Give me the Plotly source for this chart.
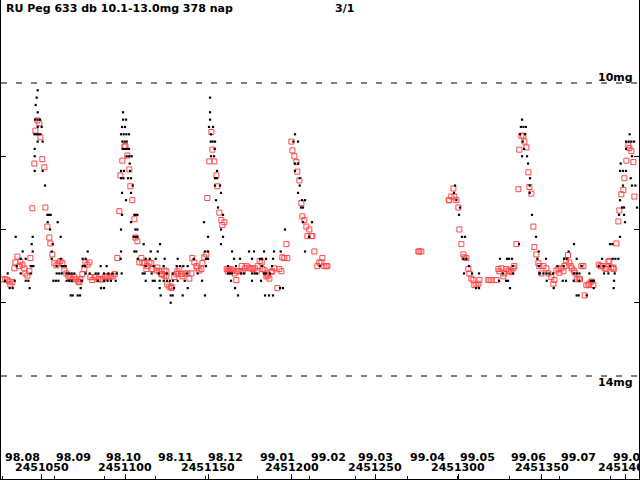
import plotly.graph_objects as go

JD0 = 2451000

# visual estimates (JD - 2451000, magnitude)
black_jd = [
    47.6, 47.0, 46.4, 47.6, 46.0, 47.5, 49.0, 47.6, 50.0, 45.6, 46.8, 48.0, 49.2,
    47.6, 50.6, 45.8, 45.8, 45.8, 50.6, 52.0, 53.4, 54.4, 55.4, 53.6, 59.6, 55.0,
    34.4, 44.6, 61.4, 44.0, 56.6, 38.6, 44.6, 56.0, 77.6,
    37.4, 40.4, 56.0, 61.4, 74.6, 76.4,
    35.0, 43.4, 44.2, 45.0, 59.0, 62.0, 63.2, 64.4, 74.6, 76.0,
    29.6, 37.4, 43.4, 59.0, 60.5, 62.0, 65.0, 66.5, 68.0, 69.6, 76.4, 78.8, 82.4, 84.0,
    28.0, 33.8, 40.4, 42.0, 57.0, 58.5, 60.0, 65.0, 66.5, 68.0, 74.0, 83.6,
    30.8, 32.6, 42.8, 73.4, 67.4, 68.6, 71.6, 73.0,
    # 2nd outburst
    98.8, 98.8, 100.6, 98.2, 100.0, 97.6, 99.2, 100.8, 102.4, 98.4, 99.8, 101.0,
    98.6, 100.0, 101.2, 102.4, 101.0, 102.5, 104.0, 102.8, 97.6, 99.4, 103.0,
    97.6, 99.0, 101.8, 103.6, 104.6, 98.2, 103.6, 100.6, 98.2, 105.6, 106.4, 107.4,
    103.6, 97.6, 106.2, 107.4, 105.2, 106.4, 107.4, 111.2, 121.0,
    97.6, 105.6, 106.8, 115.4, 119.6,
    97.4, 107.6, 112.4, 114.8, 118.4, 123.8, 131.6, 141.2,
    85.4, 89.0, 112.4, 117.2, 123.2, 131.0, 133.0, 135.0, 137.6,
    87.4, 90.0, 92.5, 95.0, 98.0, 110.6, 111.8, 116.0, 120.2, 125.0, 128.6, 137.0, 143.6,
    87.4, 89.5, 91.5, 94.4, 112.4, 116.6, 117.8, 120.8, 123.2, 125.2, 127.0, 128.8, 131.6, 135.8,
    85.6, 87.4, 120.8, 129.4, 137.6, 121.4, 127.4, 128.6, 134.6, 127.4,
    # 3rd outburst
    151.0, 151.0, 151.0, 150.4, 152.8, 151.6, 151.4, 152.6, 154.0, 153.8, 151.6, 153.4,
    155.2, 154.0, 155.2, 154.0, 157.0, 157.6, 154.6, 155.8, 158.8, 147.4, 157.6,
    149.8, 158.8, 157.6,
    148.0, 149.8, 164.2, 174.4, 177.4, 183.4, 189.4, 193.4,
    148.6, 149.8, 165.4, 169.0, 176.2, 181.0, 182.2, 184.6, 188.8,
    148.6, 161.8, 166.6, 182.2, 188.2,
    161.8, 163.0, 164.2, 169.6, 171.4, 176.2, 177.8, 179.2, 183.4, 184.6, 187.0,
    146.2, 163.6, 176.2, 181.6, 166.0, 193.0, 194.8, 148.0, 167.8, 184.0, 186.4, 188.8,
    # 4th outburst
    202.0, 201.0, 203.8, 202.0, 203.8, 202.0, 204.8, 204.8, 203.8, 206.2, 208.0,
    205.6, 206.8, 206.8, 212.2, 196.0, 210.4, 208.0, 216.8,
    # 5th and 6th outbursts
    298.0, 297.4, 298.8, 301.0, 300.4, 302.2, 304.0, 303.0, 304.8, 306.4,
    303.4, 308.2, 312.4, 310.6, 312.4,
    325.0, 329.2, 330.4, 332.2, 332.8, 326.8, 332.8, 324.4, 328.6, 329.8, 331.0,
    338.2, 337.5, 339.0, 340.5, 337.0, 340.0, 338.6, 339.4, 338.2, 341.2, 341.8,
    343.0, 342.8, 342.8, 344.2, 346.6, 336.4, 348.2, 347.4, 348.4, 353.0, 348.6,
    # 7th outburst
    402.8, 400.6, 402.2, 403.8, 405.4, 400.6, 404.2, 397.4, 397.0, 398.8, 400.6,
    403.4, 398.8, 404.2, 406.2, 397.0, 398.2, 399.4, 407.2, 396.4, 399.4, 400.0,
    397.0, 391.0, 392.4, 369.4, 366.2,
    352.6, 363.4, 365.0, 371.0, 386.2, 392.6, 394.2, 396.0,
    359.4, 363.2, 374.0, 384.2, 387.2, 391.0,
    349.0, 351.0, 354.6, 356.8, 369.4, 371.0, 372.6, 378.6, 387.4, 390.0, 393.8,
    353.0, 362.6, 364.6, 369.2, 372.6, 379.4, 380.4, 381.4, 393.4,
    357.2, 381.2, 393.2, 371.0, 372.2, 377.0,
]
black_mag = [
    10.1, 10.2, 10.3, 10.4, 10.5, 10.5, 10.5, 10.6, 10.6, 10.7, 10.7, 10.7, 10.7,
    10.8, 10.8, 10.9, 11.0, 11.2, 11.2, 11.4, 11.8, 11.8, 11.8, 11.9, 11.9, 12.0,
    12.1, 12.1, 12.1, 12.2, 12.2, 12.3, 12.3, 12.3, 12.3,
    12.4, 12.4, 12.4, 12.4, 12.4, 12.4,
    12.5, 12.5, 12.5, 12.5, 12.5, 12.5, 12.5, 12.5, 12.5, 12.5,
    12.6, 12.6, 12.6, 12.6, 12.6, 12.6, 12.6, 12.6, 12.6, 12.6, 12.6, 12.6, 12.6, 12.6,
    12.7, 12.7, 12.7, 12.7, 12.7, 12.7, 12.7, 12.7, 12.7, 12.7, 12.7, 12.7,
    12.8, 12.8, 12.8, 12.8, 12.9, 12.9, 12.9, 12.9,
    10.4, 10.5, 10.5, 10.6, 10.6, 10.7, 10.7, 10.7, 10.7, 10.8, 10.8, 10.8,
    10.9, 10.9, 10.9, 10.9, 11.0, 11.0, 11.0, 11.1, 11.2, 11.2, 11.2,
    11.3, 11.3, 11.3, 11.3, 11.4, 11.5, 11.5, 11.6, 11.8, 11.8, 11.8, 11.8,
    11.9, 12.0, 12.0, 12.0, 12.1, 12.1, 12.1, 12.2, 12.2,
    12.3, 12.3, 12.3, 12.3, 12.3,
    12.4, 12.4, 12.4, 12.4, 12.4, 12.4, 12.4, 12.4,
    12.5, 12.5, 12.5, 12.5, 12.5, 12.5, 12.5, 12.5, 12.5,
    12.6, 12.6, 12.6, 12.6, 12.6, 12.6, 12.6, 12.6, 12.6, 12.6, 12.6, 12.6, 12.6,
    12.7, 12.7, 12.7, 12.7, 12.7, 12.7, 12.7, 12.7, 12.7, 12.7, 12.7, 12.7, 12.7, 12.7,
    12.8, 12.8, 12.8, 12.8, 12.8, 12.9, 12.9, 12.9, 12.9, 13.0,
    10.2, 10.4, 10.5, 10.6, 10.6, 10.7, 10.8, 10.8, 10.8, 10.9, 11.0, 11.0,
    11.2, 11.3, 11.3, 11.4, 11.4, 11.5, 11.6, 11.7, 11.8, 11.9, 12.0,
    12.1, 12.1, 12.2,
    12.3, 12.3, 12.3, 12.3, 12.3, 12.3, 12.3, 12.3,
    12.4, 12.4, 12.4, 12.4, 12.4, 12.4, 12.4, 12.4, 12.4,
    12.5, 12.5, 12.5, 12.5, 12.5,
    12.6, 12.6, 12.6, 12.6, 12.6, 12.6, 12.6, 12.6, 12.6, 12.6, 12.6,
    12.7, 12.7, 12.7, 12.7, 12.8, 12.8, 12.8, 12.9, 12.9, 12.9, 12.9, 12.9,
    10.7, 10.8, 10.8, 11.1, 11.1, 11.2, 11.3, 11.4, 11.5, 11.6, 11.6,
    11.7, 11.7, 11.9, 11.9, 12.0, 12.1, 12.3, 12.5,
    11.4, 11.5, 11.6, 11.7, 11.8, 12.1, 12.1, 12.4, 12.4, 12.5,
    12.6, 12.6, 12.6, 12.8, 12.8,
    12.4, 12.4, 12.4, 12.4, 12.5, 12.6, 12.6, 12.7, 12.7, 12.7, 12.8,
    10.5, 10.6, 10.6, 10.6, 10.7, 10.7, 10.8, 10.9, 11.0, 11.0, 11.1,
    11.3, 11.4, 11.5, 11.8, 12.1, 12.2, 12.3, 12.4, 12.5, 12.6, 12.6,
    10.7, 10.8, 10.8, 10.8, 10.8, 10.9, 11.0, 11.1, 11.2, 11.2, 11.2,
    11.3, 11.4, 11.4, 11.4, 11.6, 11.7, 11.7, 11.7, 11.8, 11.8, 11.9,
    12.1, 12.2, 12.2, 12.2, 12.3,
    12.4, 12.4, 12.4, 12.4, 12.4, 12.4, 12.4, 12.4,
    12.5, 12.5, 12.5, 12.5, 12.5, 12.5,
    12.6, 12.6, 12.6, 12.6, 12.6, 12.6, 12.6, 12.6, 12.6, 12.6, 12.6,
    12.7, 12.7, 12.7, 12.7, 12.7, 12.7, 12.7, 12.7, 12.7,
    12.8, 12.8, 12.8, 12.9, 12.9, 12.9,
]

red_jd = [
    47.4, 48.6, 46.2, 49.2, 45.6, 50.4, 51.6, 44.4, 52.2, 53.4, 54.6, 55.2, 56.4,
    35.4, 34.2, 38.4, 37.2, 43.2, 36.6, 33.6, 39.6, 42.6, 40.2, 41.4,
    28.2, 29.4, 30.6, 32.4, 31.2, 26.4, 57.6, 58.8, 60.0, 61.2, 62.4, 63.6, 64.8,
    66.0, 67.2, 68.4, 69.6, 70.8, 72.0, 73.2, 72.6, 74.4, 75.6, 76.2, 77.4, 78.6,
    79.2, 80.4, 81.6, 82.8, 84.0,
    85.4, 86.6, 87.8, 89.0, 90.2, 91.4, 92.6, 93.8, 99.6, 100.2, 101.4, 98.4,
    102.6, 97.2, 103.2, 104.4, 96.6, 105.6, 106.2, 107.4, 95.4, 109.8, 108.6,
    110.4, 111.6, 114.6, 115.8, 113.4, 116.4, 112.8, 119.4, 120.6, 118.8, 121.8,
    122.2, 122.4, 123.6, 124.8, 123.6, 124.8, 125.4, 126.6, 127.8, 127.8, 129.6,
    130.8, 131.4, 132.6, 132.0, 133.8, 134.4, 136.2, 137.4, 139.8, 138.6, 140.4,
    141.6, 142.8, 143.4, 144.6,
    151.8, 152.4, 150.6, 153.6, 154.8, 155.4, 149.4, 156.6, 157.8, 159.6, 158.4,
    147.6, 148.8, 146.4, 145.8, 161.0, 162.2, 163.4, 164.6, 161.6, 162.8, 165.8,
    167.0, 168.2, 169.4, 170.6, 170.0, 171.8, 173.0, 174.2, 175.4, 176.6, 177.8,
    179.0, 179.6, 180.8, 182.0, 182.6, 183.8, 185.0, 185.6, 184.8, 186.6, 187.8,
    188.4, 189.6, 191.4, 192.6, 193.8, 194.4, 195.6, 197.4, 196.8, 166.8,
    199.8, 200.4, 201.6, 202.8, 203.4, 204.6, 205.8, 206.4, 207.6, 208.8, 210.6,
    209.4, 211.8, 212.4, 213.6, 215.4, 216.6, 218.4, 217.8, 219.6, 220.8, 221.4,
    276.0, 276.6, 277.8,
    297.0, 295.8, 297.6, 294.2, 294.6, 298.8, 300.0, 300.6, 301.8, 303.0, 303.6,
    304.8, 306.0, 306.6, 307.8, 309.0, 309.6, 310.8, 312.0, 312.6,
    318.0, 318.6, 319.8, 322.8, 324.0, 325.8, 324.6, 327.0, 327.6, 328.8, 330.6,
    330.0, 331.8, 333.0, 333.6, 334.8,
    337.8, 339.0, 339.6, 340.8, 336.6, 342.0, 336.0, 342.6, 343.8, 345.0, 345.6,
    346.8, 348.0, 348.6, 349.8, 351.0, 352.8, 354.0,
    402.0, 402.6, 403.8, 400.8, 405.0, 399.6, 399.0, 397.8, 405.6, 396.6, 396.0,
    394.8, 390.0, 390.6, 384.2, 385.4, 386.6, 387.8, 388.8, 391.8, 393.2, 393.0,
    365.8, 364.6, 366.6, 363.6, 361.8, 363.0, 360.0, 358.8, 360.6, 355.8, 357.0,
    357.6, 367.4, 368.0, 369.2, 369.8, 371.0, 372.2, 373.0, 375.0, 373.8, 376.8,
    378.0, 378.6, 379.8, 381.0, 375.8,
]
red_mag = [
    10.51, 10.55, 10.65, 10.74, 11.10, 11.04, 11.15, 11.71, 11.70, 11.96, 12.11, 12.19, 12.34,
    12.37, 12.45, 12.48, 12.44, 12.39, 12.50, 12.53, 12.53, 12.57, 12.60, 12.63,
    12.68, 12.69, 12.71, 12.72, 12.75, 12.68, 12.46, 12.49, 12.46, 12.43, 12.46, 12.56, 12.60,
    12.63, 12.65, 12.68, 12.65, 12.68, 12.71, 12.68, 12.72, 12.61, 12.54, 12.45, 12.48, 12.45,
    12.65, 12.69, 12.65, 12.65, 12.68,
    12.68, 12.68, 12.65, 12.64, 12.64, 12.64, 12.64, 12.61, 10.87, 10.86, 10.99, 11.06,
    11.18, 11.26, 11.41, 11.60, 11.75, 11.86, 12.11, 12.16, 12.39, 12.39, 12.45,
    12.45, 12.46, 12.45, 12.46, 12.50, 12.54, 12.54, 12.52, 12.57, 12.56, 12.61,
    12.61, 12.61, 12.56, 12.57, 12.63, 12.64, 12.75, 12.78, 12.78, 12.80, 12.65,
    12.61, 12.57, 12.54, 12.60, 12.61, 12.64, 12.60, 12.60, 12.60, 12.67, 12.39,
    12.45, 12.50, 12.53, 12.56,
    10.67, 10.91, 11.07, 11.07, 11.26, 11.41, 11.57, 11.77, 11.87, 11.90, 11.94,
    12.38, 12.34, 12.46, 12.54, 12.54, 12.54, 12.54, 12.56, 12.57, 12.57, 12.60,
    12.57, 12.57, 12.57, 12.57, 12.50, 12.53, 12.50, 12.52, 12.53, 12.54, 12.53,
    12.57, 12.50, 12.43, 12.45, 12.54, 12.56, 12.60, 12.63, 12.64, 12.67, 12.58,
    12.57, 12.53, 12.80, 12.54, 12.57, 12.38, 12.39, 12.39, 12.20, 12.69,
    10.80, 10.92, 11.00, 11.08, 11.21, 11.33, 11.64, 11.82, 11.87, 11.96, 12.00,
    12.09, 12.09, 12.09, 12.30, 12.50, 12.45, 12.39, 12.45, 12.50, 12.50, 12.50,
    12.30, 12.30, 12.30,
    11.44, 11.55, 11.55, 11.60, 11.60, 11.60, 11.70, 12.00, 12.20, 12.34, 12.38,
    12.39, 12.54, 12.60, 12.67, 12.69, 12.76, 12.75, 12.74, 12.69,
    12.69, 12.69, 12.69, 12.69, 12.54, 12.53, 12.57, 12.64, 12.60, 12.54, 12.57,
    12.56, 12.58, 12.53, 12.50, 12.20,
    10.72, 10.72, 10.80, 10.88, 10.91, 11.22, 11.45, 11.42, 11.51, 11.96, 12.24,
    12.34, 12.46, 12.50, 12.60, 12.50, 12.53, 12.60,
    10.85, 10.89, 10.93, 11.06, 11.08, 11.30, 11.46, 11.52, 11.55, 11.74, 11.89,
    12.19, 12.44, 12.43, 12.48, 12.50, 12.50, 12.53, 12.54, 12.52, 12.54, 12.52,
    12.35, 12.42, 12.45, 12.50, 12.53, 12.57, 12.54, 12.56, 12.59, 12.65, 12.74,
    12.69, 12.50, 12.53, 12.56, 12.59, 12.68, 12.67, 12.68, 12.50, 12.50, 12.76,
    12.76, 12.74, 12.71, 12.76, 12.90,
]

# axis marks
month_labels = ["98.08", "98.09", "98.10", "98.11", "98.12", "99.01", "99.02",
                "99.03", "99.04", "99.05", "99.06", "99.07", "99.08"]
month_jd = [2451026.5, 2451057.5, 2451087.5, 2451118.5, 2451148.5, 2451179.5,
            2451210.5, 2451238.5, 2451269.5, 2451299.5, 2451330.5, 2451360.5,
            2451391.5]
jd_ticks = [2451050, 2451100, 2451150, 2451200, 2451250, 2451300, 2451350, 2451400]
mag_ticks = [11, 12, 13]
mag_limits = [10, 14]

title_text = "RU Peg 633 db 10.1-13.0mg 378 nap"
page_text = "3/1"

RED = "#ff4747"
FONT = dict(family="DejaVu Sans", size=11, color="black", weight="bold")
x_range = [JD0 + 25.58, JD0 + 408.38]
y_range = [15.406, 8.867]

fig = go.Figure()
fig.add_trace(go.Scatter(
    x=[JD0 + j for j in black_jd], y=black_mag, mode="markers", xaxis="x2",
    marker=dict(symbol="square", size=2.2, color="black", line=dict(width=0)),
))
fig.add_trace(go.Scatter(
    x=[JD0 + j for j in red_jd], y=red_mag, mode="markers",
    marker=dict(symbol="square-open", size=5, color=RED, line=dict(width=1, color=RED)),
))

for m in mag_limits:
    fig.add_shape(type="line", xref="paper", x0=0, x1=1, yref="y", y0=m, y1=m,
                  line=dict(color="black", width=1, dash="6px,9px"))

annotations = [
    dict(text=title_text, xref="paper", x=0, xanchor="left", xshift=3,
         yref="paper", y=1, yanchor="middle", yshift=-8),
    dict(text=page_text, xref="paper", x=0, xanchor="left", xshift=332,
         yref="paper", y=1, yanchor="middle", yshift=-8),
    dict(text="10mg", xref="paper", x=1, xanchor="right", xshift=-4,
         yref="y", y=10, yanchor="middle", yshift=6),
    dict(text="14mg", xref="paper", x=1, xanchor="right", xshift=-4,
         yref="y", y=14, yanchor="middle", yshift=-6),
]
for lab, jd in zip(month_labels, month_jd):
    annotations.append(dict(text=lab, xref="x", x=jd, xanchor="left",
                            yref="paper", y=0, yanchor="middle", yshift=22))
for jd in jd_ticks:
    annotations.append(dict(text=str(jd), xref="x", x=jd, xanchor="center",
                            yref="paper", y=0, yanchor="middle", yshift=12))
for a in annotations:
    a.update(showarrow=False, font=FONT)

fig.update_layout(
    width=640, height=480,
    template="plotly_white",
    plot_bgcolor="white", paper_bgcolor="white",
    showlegend=False,
    margin=dict(l=1, r=1, t=0, b=1),
    annotations=annotations,
    xaxis=dict(range=x_range, tickvals=month_jd, ticks="inside", ticklen=3,
               tickcolor="black", showticklabels=False, showline=True,
               linecolor="black", linewidth=1, showgrid=False, zeroline=False),
    xaxis2=dict(range=x_range, overlaying="x", anchor="y", side="bottom",
                tickvals=jd_ticks, ticks="inside", ticklen=5, tickcolor="black",
                showticklabels=False, showline=False, showgrid=False, zeroline=False),
    yaxis=dict(range=y_range, tickvals=mag_ticks, ticks="inside", ticklen=5,
               tickcolor="black", showticklabels=False, showline=True,
               linecolor="black", linewidth=1, mirror="ticks", showgrid=False,
               zeroline=False),
)

# the page's default body margin would shift the 640x480 figure
fig.write_html("out.html", config={"displayModeBar": False},
               post_script="document.body.style.margin='0';")
